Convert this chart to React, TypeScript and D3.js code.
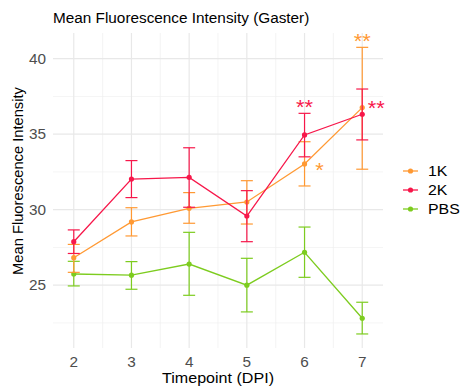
import React from "react";
import * as d3 from "d3";

const timepoints = [2, 3, 4, 5, 6, 7];
const seriesNames = ["1K", "2K", "PBS"];
const colors = ["#FF9933", "#F7174A", "#7DCC1F"];
const mean1K = [26.82, 29.19, 30.09, 30.51, 33.03, 36.76];
const lo1K = [25.85, 28.26, 29.1, 29.05, 31.57, 32.68];
const hi1K = [27.7, 30.13, 31.13, 31.92, 34.5, 40.75];
const mean2K = [27.88, 32.03, 32.14, 29.58, 34.95, 36.32];
const lo2K = [27.1, 30.8, 30.16, 27.88, 33.5, 34.62];
const hi2K = [28.66, 33.25, 34.1, 31.26, 36.38, 37.99];
const meanPBS = [25.74, 25.66, 26.4, 25.0, 27.18, 22.81];
const loPBS = [24.95, 24.73, 24.33, 23.23, 25.52, 21.77];
const hiPBS = [26.58, 26.56, 28.5, 26.78, 28.85, 23.87];
const yTicks = [25, 30, 35, 40];
const starSeries = [1, 1, 0, 0];
const starTime = [6, 7, 6, 7];
const starValue = [36.38, 36.32, 33.03, 40.75];
const starText = ["**", "**", "*", "**"];
const starPlacement = ["above", "right", "right-low", "above"];

const SX = 1.095;

function T(props: any) {
  const { x, y, children, ...rest } = props;
  return (
    <text transform={`translate(${x},${y}) scale(${SX},1)`} {...rest}>
      {children}
    </text>
  );
}

export default function App() {
  const W = 461, H = 391;
  const left = 53, right = 383, top = 33, bottom = 348;
  const x = d3.scaleLinear().domain([1.64, 7.36]).range([left, right]);
  const y = d3.scaleLinear().domain([20.84, 41.7]).range([bottom, top]);
  const font = "Liberation Sans, Arial, sans-serif";
  const data = [
    { m: mean1K, lo: lo1K, hi: hi1K },
    { m: mean2K, lo: lo2K, hi: hi2K },
    { m: meanPBS, lo: loPBS, hi: hiPBS },
  ];
  const line = d3.line<number>().x((_, i) => x(timepoints[i])).y((d) => y(d));
  const minorX = [2.5, 3.5, 4.5, 5.5, 6.5];
  const minorY = [22.5, 27.5, 32.5, 37.5];
  const cap = 6;
  const order = [2, 0, 1];
  return (
    <svg width={W} height={H} style={{ position: "absolute", left: 0, top: 0 }} fontFamily={font}>
      <rect width={W} height={H} fill="#fff" />
      {minorY.map((v) => (
        <line key={"my" + v} x1={left} x2={right} y1={y(v)} y2={y(v)} stroke="#efefef" strokeWidth={0.7} />
      ))}
      {minorX.map((v) => (
        <line key={"mx" + v} x1={x(v)} x2={x(v)} y1={top} y2={bottom} stroke="#efefef" strokeWidth={0.7} />
      ))}
      {yTicks.map((v) => (
        <line key={"y" + v} x1={left} x2={right} y1={y(v)} y2={y(v)} stroke="#e8e8e8" strokeWidth={1.2} />
      ))}
      {timepoints.map((v) => (
        <line key={"x" + v} x1={x(v)} x2={x(v)} y1={top} y2={bottom} stroke="#e8e8e8" strokeWidth={1.2} />
      ))}
      {order.map((s) => {
        const d = data[s];
        const c = colors[s];
        return (
          <g key={s}>
            {timepoints.map((t, i) => (
              <g key={t} stroke={c} strokeWidth={1.2}>
                <line x1={x(t)} x2={x(t)} y1={y(d.lo[i])} y2={y(d.hi[i])} />
                <line x1={x(t) - cap} x2={x(t) + cap} y1={y(d.lo[i])} y2={y(d.lo[i])} />
                <line x1={x(t) - cap} x2={x(t) + cap} y1={y(d.hi[i])} y2={y(d.hi[i])} />
              </g>
            ))}
            <path d={line(d.m) || ""} fill="none" stroke={c} strokeWidth={1.3} />
            {timepoints.map((t, i) => (
              <circle key={"p" + t} cx={x(t)} cy={y(d.m[i])} r={2.6} fill={c} />
            ))}
          </g>
        );
      })}
      {starText.map((txt, i) => {
        const px = x(starTime[i]);
        const py = y(starValue[i]);
        const p = starPlacement[i];
        let tx = px, ty = py + 1;
        if (p === "right") { tx = px + 14; ty = py + 0.5; }
        if (p === "right-low") { tx = px + 15; ty = py + 13.5; }
        return (
          <T key={"s" + i} x={tx} y={ty} textAnchor="middle" fontSize={20} fill={colors[starSeries[i]]}>
            {txt}
          </T>
        );
      })}
      {yTicks.map((v) => (
        <T key={"yt" + v} x={left - 7} y={y(v) + 5} textAnchor="end" fontSize={14} fill="#4d4d4d">
          {v}
        </T>
      ))}
      {timepoints.map((t) => (
        <T key={"xt" + t} x={x(t)} y={367} textAnchor="middle" fontSize={14} fill="#4d4d4d">
          {t}
        </T>
      ))}
      <T x={(left + right) / 2} y={382.5} textAnchor="middle" fontSize={14.7} fill="#000">
        Timepoint (DPI)
      </T>
      <text transform={`translate(22.5,181) rotate(-90)`} textAnchor="middle" fontSize={14.7} fill="#000">
        Mean Fluorescence Intensity
      </text>
      <T x={53} y={22.7} fontSize={14} fill="#000">
        Mean Fluorescence Intensity (Gaster)
      </T>
      {seriesNames.map((n, i) => {
        const ly = 171 + i * 19;
        return (
          <g key={n}>
            <line x1={403} x2={418} y1={ly} y2={ly} stroke={colors[i]} strokeWidth={1.3} />
            <circle cx={410.5} cy={ly} r={2.6} fill={colors[i]} />
            <T x={428} y={ly + 5.2} fontSize={14.5} fill="#000">
              {n}
            </T>
          </g>
        );
      })}
    </svg>
  );
}
